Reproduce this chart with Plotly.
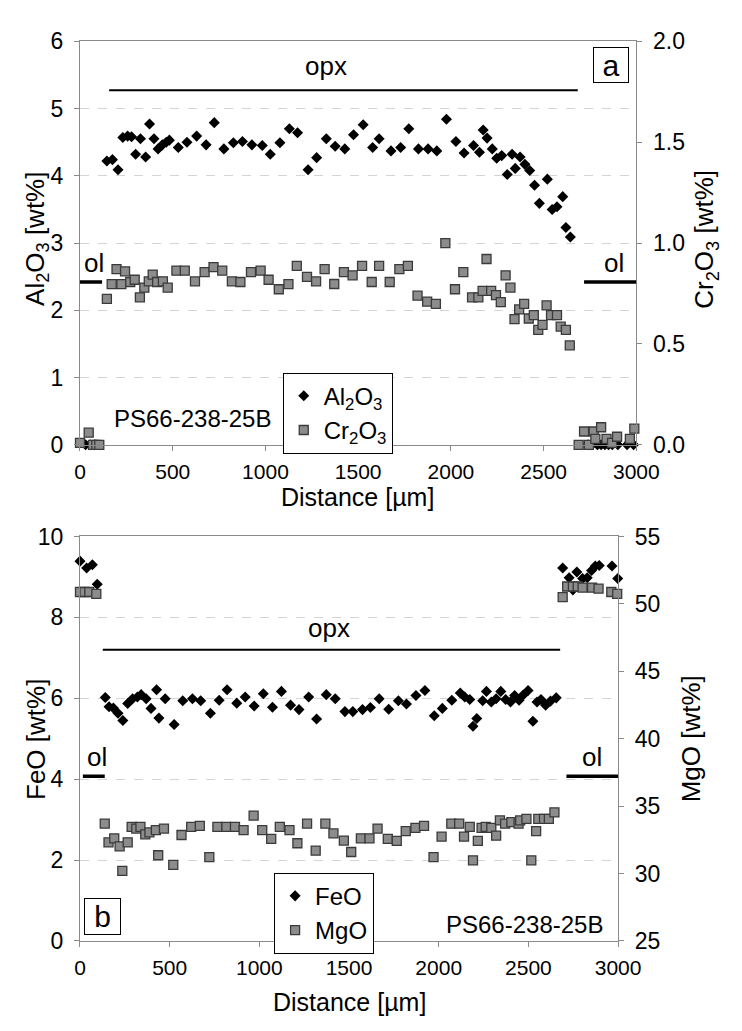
import plotly.graph_objects as go

W, H = 742, 1031

# ---------------- DATA (top panel) ----------------
al_ol_x = [30, 55, 80, 2740, 2760, 2790, 2810, 2830, 2850, 2870, 2900, 2950, 2985]
al_ol_y = [0.0] * 13
al_opx_x = [145, 175, 205, 231, 257, 278, 300, 326, 354, 375,
            399, 421, 444, 465, 482, 530, 577, 629, 680, 724,
            776, 827, 876, 927, 983, 1026, 1078, 1129, 1173, 1230,
            1276, 1328, 1376, 1428, 1475, 1527, 1578, 1613, 1677, 1729,
            1773, 1825, 1877, 1924, 1976, 2027, 2071, 2122, 2154, 2174,
            2195, 2223, 2247, 2274, 2304, 2330, 2347, 2373, 2399, 2425,
            2451, 2477, 2520, 2546, 2572, 2603, 2620, 2644]
al_opx_y = [4.22, 4.24, 4.09, 4.57, 4.59, 4.58, 4.32, 4.55, 4.28, 4.77,
            4.55, 4.40, 4.46, 4.50, 4.53, 4.42, 4.50, 4.59, 4.46, 4.79,
            4.40, 4.49, 4.51, 4.46, 4.45, 4.32, 4.49, 4.70, 4.64, 4.09,
            4.27, 4.55, 4.44, 4.40, 4.61, 4.76, 4.42, 4.55, 4.37, 4.42,
            4.70, 4.40, 4.40, 4.37, 4.84, 4.51, 4.34, 4.45, 4.35, 4.68,
            4.56, 4.40, 4.26, 4.30, 4.02, 4.32, 4.11, 4.28, 4.17, 4.08,
            3.86, 3.59, 3.95, 3.50, 3.54, 3.69, 3.23, 3.09]

cr_ol_x = [0, 47, 70, 88, 104, 2689, 2718, 2744, 2770, 2779, 2810, 2839, 2869, 2896, 2965, 2989]
cr_ol_y = [0.01, 0.06, 0.0, 0.0, 0.0, 0.0, 0.066, 0.0, 0.066, 0.03, 0.087, 0.03, 0.01, 0.04, 0.03, 0.08]
cr_opx_x = [145, 171, 197, 223, 243, 271, 295, 323, 347, 371,
            392, 416, 447, 473, 520, 565, 620, 672, 720, 767,
            819, 865, 922, 974, 1017, 1072, 1124, 1169, 1224, 1273,
            1319, 1371, 1423, 1470, 1521, 1573, 1613, 1670, 1722, 1768,
            1820, 1872, 1919, 1970, 2022, 2067, 2114, 2148, 2171, 2192,
            2217, 2243, 2269, 2295, 2321, 2343, 2368, 2395, 2420, 2447,
            2471, 2494, 2516, 2540, 2572, 2592, 2620, 2641]
cr_opx_y = [0.723, 0.796, 0.871, 0.796, 0.860, 0.807, 0.818, 0.731, 0.779, 0.810,
            0.844, 0.807, 0.810, 0.779, 0.863, 0.863, 0.810, 0.856, 0.881, 0.863,
            0.810, 0.807, 0.856, 0.863, 0.818, 0.771, 0.796, 0.887, 0.832, 0.810,
            0.871, 0.797, 0.856, 0.840, 0.887, 0.807, 0.887, 0.807, 0.871, 0.887,
            0.739, 0.710, 0.699, 1.000, 0.771, 0.856, 0.731, 0.731, 0.763, 0.921,
            0.763, 0.742, 0.707, 0.840, 0.779, 0.623, 0.671, 0.699, 0.626, 0.643,
            0.570, 0.594, 0.691, 0.643, 0.643, 0.586, 0.570, 0.493]

# ---------------- DATA (bottom panel) ----------------
feo_ol_x = [0, 37, 69, 96, 2691, 2727, 2748, 2770, 2802, 2828, 2852, 2873, 2895, 2966, 2998]
feo_ol_y = [9.39, 9.22, 9.30, 8.82, 9.22, 8.98, 8.68, 9.12, 8.96, 8.98, 9.16, 9.27, 9.28, 9.27, 8.96]
feo_opx_x = [141, 162, 186, 212, 239, 266, 293, 320, 341, 369,
             396, 427, 440, 475, 525, 573, 627, 673, 727, 776,
             820, 874, 921, 971, 1022, 1073, 1123, 1174, 1221, 1275,
             1319, 1373, 1423, 1477, 1521, 1575, 1619, 1668,
             1721, 1775, 1820, 1873, 1923, 1975, 2020, 2073, 2120, 2145,
             2173, 2191, 2212, 2245, 2266, 2293, 2320, 2346, 2373, 2400,
             2423, 2448, 2471, 2498, 2525, 2548, 2570, 2596, 2623, 2655]
feo_opx_y = [6.02, 5.79, 5.76, 5.63, 5.45, 5.87, 5.99, 6.03, 6.09, 5.99,
             5.75, 6.21, 5.51, 5.99, 5.35, 5.94, 5.99, 5.94, 5.63, 5.95,
             6.21, 5.88, 6.03, 5.81, 6.11, 5.78, 6.17, 5.83, 5.72, 6.03,
             5.49, 6.09, 5.99, 5.67, 5.67, 5.72, 5.77, 5.99,
             5.73, 5.94, 5.86, 6.07, 6.19, 5.57, 5.75, 5.95, 6.13, 6.03,
             5.97, 5.31, 5.50, 5.94, 6.17, 5.91, 5.99, 6.17, 5.97, 5.91,
             6.07, 5.95, 6.08, 6.19, 5.43, 5.91, 5.97, 5.83, 5.93, 6.01]

mgo_ol_x = [0, 25, 52, 91, 2691, 2716, 2748, 2775, 2802, 2855, 2891, 2962, 2995]
mgo_ol_y = [50.88, 50.88, 50.88, 50.74, 50.50, 51.29, 51.29, 51.29, 51.21, 51.21, 51.13, 50.88, 50.74]
mgo_opx_x = [138, 159, 191, 221, 236, 266, 288, 314, 337, 364,
             387, 423, 436, 468, 520, 566, 620, 668, 721, 766,
             816, 864, 912, 968, 1016, 1066, 1114, 1168, 1212, 1266,
             1314, 1368, 1413, 1471, 1512, 1566, 1614, 1659,
             1716, 1766, 1816, 1870, 1918, 1971, 2016, 2070, 2114, 2141,
             2173, 2191, 2218, 2239, 2262, 2293, 2320, 2341, 2370, 2405,
             2445, 2454, 2489, 2516, 2543, 2555, 2587, 2614, 2645]
mgo_opx_y = [33.70, 32.32, 32.61, 32.01, 30.20, 32.32, 33.46, 33.34, 33.46, 32.91,
             33.06, 33.22, 31.36, 33.34, 30.64, 32.86, 33.46, 33.53, 31.22, 33.46,
             33.46, 33.46, 33.22, 34.30, 33.22, 32.57, 33.46, 33.22, 32.25, 33.70,
             31.70, 33.70, 32.98, 32.45, 31.60, 32.61, 32.61, 33.34,
             32.57, 32.42, 33.15, 33.39, 33.53, 31.22, 32.74, 33.70, 33.70, 32.74,
             33.46, 30.98, 32.42, 33.39, 33.46, 33.39, 32.81, 33.94, 33.70, 33.82,
             33.70, 33.94, 34.06, 30.98, 33.15, 34.06, 34.06, 34.06, 34.54]

x_ticks = [0, 500, 1000, 1500, 2000, 2500, 3000]

# ---------------- helpers ----------------
FONT = "Liberation Sans, Arial, sans-serif"
GRAY = "#8c8c8c"
AXC = "#8a8a8a"


def px(x):
    return x / W


def py(y):
    return 1 - y / H


diamond = dict(symbol="diamond", size=8.5, color="black", line=dict(width=0))
square = dict(symbol="square", size=9, color=GRAY, line=dict(width=1.3, color="#3a3a3a"))

fig = go.Figure()

fig.add_trace(go.Scatter(x=al_ol_x + al_opx_x, y=al_ol_y + al_opx_y, mode="markers",
                         name="Al<sub>2</sub>O<sub>3</sub>", marker=diamond, xaxis="x", yaxis="y",
                         cliponaxis=False, legend="legend"))
fig.add_trace(go.Scatter(x=cr_ol_x + cr_opx_x, y=cr_ol_y + cr_opx_y, mode="markers",
                         name="Cr<sub>2</sub>O<sub>3</sub>", marker=square, xaxis="x", yaxis="y2",
                         cliponaxis=False, legend="legend"))
fig.add_trace(go.Scatter(x=feo_ol_x + feo_opx_x, y=feo_ol_y + feo_opx_y, mode="markers",
                         name="FeO", marker=diamond, xaxis="x2", yaxis="y3",
                         cliponaxis=False, legend="legend2"))
fig.add_trace(go.Scatter(x=mgo_ol_x + mgo_opx_x, y=mgo_ol_y + mgo_opx_y, mode="markers",
                         name="MgO", marker=square, xaxis="x2", yaxis="y4",
                         cliponaxis=False, legend="legend2"))

xtickfont = dict(family=FONT, size=21, color="black")
ytickfont = dict(family=FONT, size=23, color="black")

xcommon = dict(range=[0, 3000], tickvals=x_ticks, showgrid=False, zeroline=False,
               showline=True, linecolor=AXC, linewidth=1, mirror=True,
               ticks="outside", ticklen=5, tickcolor=AXC, tickfont=xtickfont,
               ticklabelstandoff=3)
ycommon = dict(showgrid=True, gridcolor="#d4d4d4", griddash="dash", gridwidth=1,
               zeroline=False, showline=True, linecolor=AXC, linewidth=1, mirror=True,
               ticks="outside", ticklen=5, tickcolor=AXC, tickfont=ytickfont,
               ticklabelstandoff=6)
y2common = dict(showgrid=False, zeroline=False, showline=True, linecolor=AXC,
                ticks="outside", ticklen=5, tickcolor=AXC, tickfont=ytickfont,
                ticklabelstandoff=6)

top_dom = [py(443), py(29)]
bot_dom = [py(952), py(537)]

legfont = dict(family=FONT, size=24, color="black")

fig.update_layout(
    width=W, height=H, margin=dict(l=0, r=0, t=0, b=0),
    paper_bgcolor="white", plot_bgcolor="white",
    font=dict(family=FONT, color="black"),
    xaxis=dict(domain=[px(77), px(656)], anchor="y", **xcommon),
    yaxis=dict(domain=top_dom, anchor="x", range=[0, 6], dtick=1, **ycommon),
    yaxis2=dict(overlaying="y", side="right", anchor="x", range=[0, 2], dtick=0.5,
                tickformat=".1f", **y2common),
    xaxis2=dict(domain=[px(77), px(637)], anchor="y3", **xcommon),
    yaxis3=dict(domain=bot_dom, anchor="x2", range=[0, 10], dtick=2, **ycommon),
    yaxis4=dict(overlaying="y3", side="right", anchor="x2", range=[25, 55], dtick=5, **y2common),
    legend=dict(x=px(288), y=py(369), xanchor="left", yanchor="top",
                bgcolor="white", bordercolor="black", borderwidth=1,
                font=legfont, tracegroupgap=0, itemwidth=30),
    legend2=dict(x=px(279), y=py(882), xanchor="left", yanchor="top",
                 bgcolor="white", bordercolor="black", borderwidth=1,
                 font=legfont, tracegroupgap=0, itemwidth=30),
    showlegend=True,
)

line_k = dict(color="black", width=2)
line_ol = dict(color="black", width=3.5)
fig.update_layout(shapes=[
    dict(type="line", xref="x", yref="y", x0=157, x1=2684, y0=5.27, y1=5.27, line=line_k),
    dict(type="line", xref="x", yref="y", x0=0, x1=119, y0=2.42, y1=2.42, line=line_ol),
    dict(type="line", xref="x", yref="y", x0=2718, x1=3000, y0=2.42, y1=2.42, line=line_ol),
    dict(type="line", xref="x2", yref="y3", x0=127, x1=2677, y0=7.2, y1=7.2, line=line_k),
    dict(type="line", xref="x2", yref="y3", x0=16, x1=138, y0=4.07, y1=4.07, line=line_ol),
    dict(type="line", xref="x2", yref="y3", x0=2712, x1=3000, y0=4.07, y1=4.07, line=line_ol),
])


def T(text, x, y, size, angle=0, xa="center", ya="middle", **kw):
    return dict(text=text, x=px(x), y=py(y), xref="paper", yref="paper", showarrow=False,
                xanchor=xa, yanchor=ya, textangle=angle,
                font=dict(family=FONT, size=size, color="black"), **kw)


box = dict(bordercolor="black", borderwidth=1, bgcolor="white", borderpad=0)
ann = [
    T("opx", 333, 54, 26),
    T("ol", 92, 256, 26),
    T("ol", 633, 256, 26),
    T("PS66-238-25B", 110, 416, 24, xa="left"),
    T("a", 630, 53, 30, width=34, height=34, **box),
    T("opx", 336, 631, 26),
    T("ol", 95, 763, 26),
    T("ol", 610, 763, 26),
    T("PS66-238-25B", 623, 935, 24, xa="right"),
    T("b", 100, 927, 30, width=35, height=35, **box),
    T("Al<sub>2</sub>O<sub>3</sub> [wt%]", 31, 232, 26, angle=-90),
    T("Cr<sub>2</sub>O<sub>3</sub> [wt%]", 728, 232, 26, angle=-90),
    T("Distance [µm]", 366, 497, 25),
    T("FeO [wt%]", 31, 745, 26, angle=-90),
    T("MgO [wt%]", 713, 745, 26, angle=-90),
    T("Distance [µm]", 357, 1015, 25),
]
fig.update_layout(annotations=ann)

fig.write_html("out.html")
